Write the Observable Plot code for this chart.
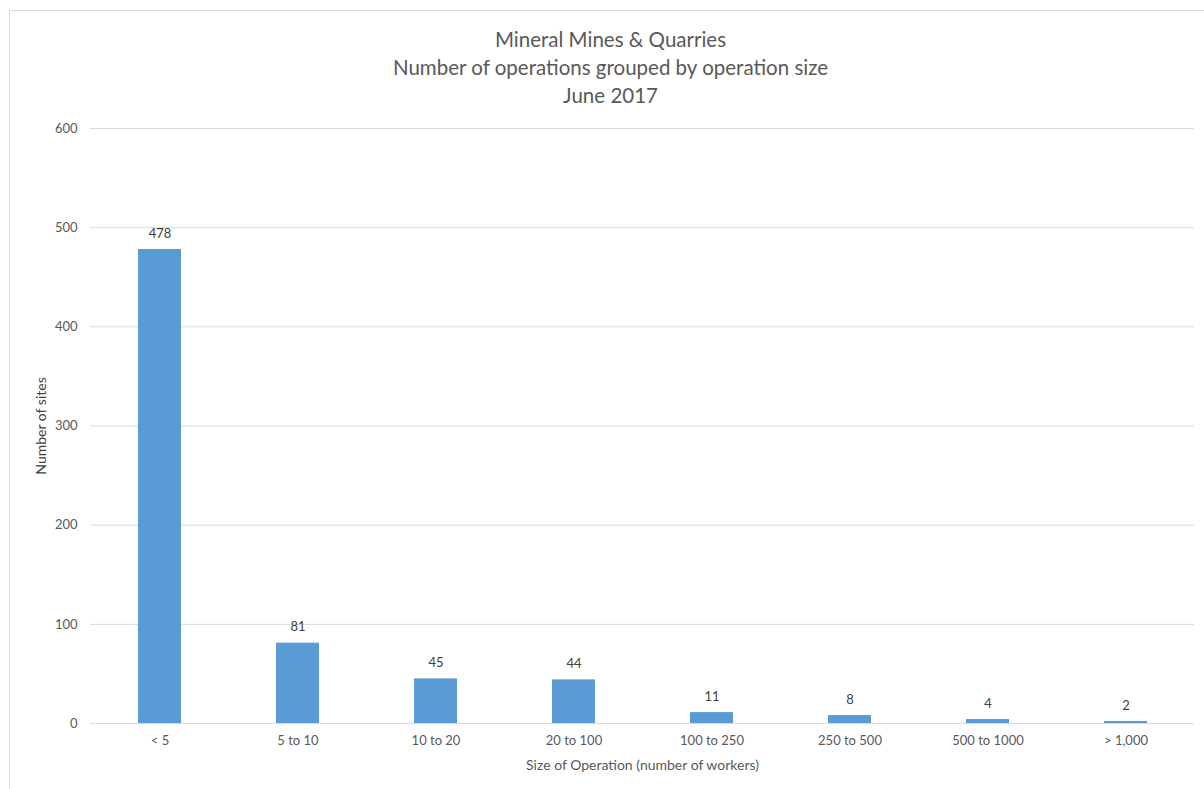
<!DOCTYPE html>
<html>
<head>
<meta charset="utf-8">
<script src="https://cdn.jsdelivr.net/npm/d3@7"></script>
<script src="https://cdn.jsdelivr.net/npm/@observablehq/plot@0.6"></script>
<style>
  body { margin: 0; background: #fff; font-family: Lato, "Open Sans", sans-serif; }
  #wrap { position: relative; width: 1204px; height: 789px; overflow: hidden; }
  #border { position: absolute; left: 9px; top: 10px; width: 1210px; height: 800px; border: 1px solid #d9d9d9; box-sizing: border-box; }
  #chart { position: absolute; left: 0; top: 0; }
</style>
</head>
<body>
<div id="wrap"><div id="border"></div><div id="chart"></div></div>
<script>
const categories = ["< 5", "5 to 10", "10 to 20", "20 to 100", "100 to 250", "250 to 500", "500 to 1000", "> 1,000"];
const sites = [478, 81, 45, 44, 11, 8, 4, 2];
const titleLines = ["Mineral Mines & Quarries", "Number of operations grouped by operation size", "June 2017"];
const yTicks = [0, 100, 200, 300, 400, 500, 600];
const xTitle = "Size of Operation (number of workers)";
const yTitle = "Number of sites";

const data = categories.map((c, i) => ({category: c, value: sites[i]}));
const textColor = "#595959";

const chart = Plot.plot({
  width: 1204,
  height: 789,
  marginLeft: 90,
  marginRight: 10,
  marginTop: 128,
  marginBottom: 66,
  style: {fontFamily: "Lato, 'Open Sans', sans-serif", fontSize: "13px", color: textColor, background: "transparent"},
  x: {domain: categories, paddingInner: 0.69, paddingOuter: 0.345, label: null},
  y: {domain: [0, 600], label: null},
  marks: [
    Plot.gridY(yTicks, {stroke: "#d9d9d9", strokeOpacity: 1}),
    Plot.ruleY([0], {stroke: "#d9d9d9", strokeWidth: 1}),
    Plot.barY(data, {x: "category", y: "value", fill: "#5B9BD5"}),
    Plot.text(data, {x: "category", y: "value", text: d => String(d.value), dy: -16, fill: "#404040", fontSize: 13}),
    Plot.axisY({ticks: yTicks, tickSize: 0, tickPadding: 13, label: null, fill: textColor, fontSize: 13}),
    Plot.axisX({tickSize: 0, tickPadding: 12, label: null, fill: textColor, fontSize: 13}),
    Plot.text([xTitle], {frameAnchor: "bottom", dy: 46, fill: textColor, fontSize: 14}),
    Plot.text([yTitle], {frameAnchor: "left", textAnchor: "middle", dx: -49, rotate: -90, fill: "#404040", fontSize: 14}),
    Plot.text(titleLines, {frameAnchor: "top", text: d => d, fill: textColor, fontSize: 20.5})
  ]
});
document.getElementById("chart").appendChild(chart);

// stack the three title lines above the plot frame, centred on the chart area
const titleTexts = d3.select(chart).selectAll("g[aria-label='text']").filter((d, i, n) => i === n.length - 1).selectAll("text");
titleTexts.attr("transform", (d, i) => `translate(610,${32 + i * 28})`);
</script>
</body>
</html>
